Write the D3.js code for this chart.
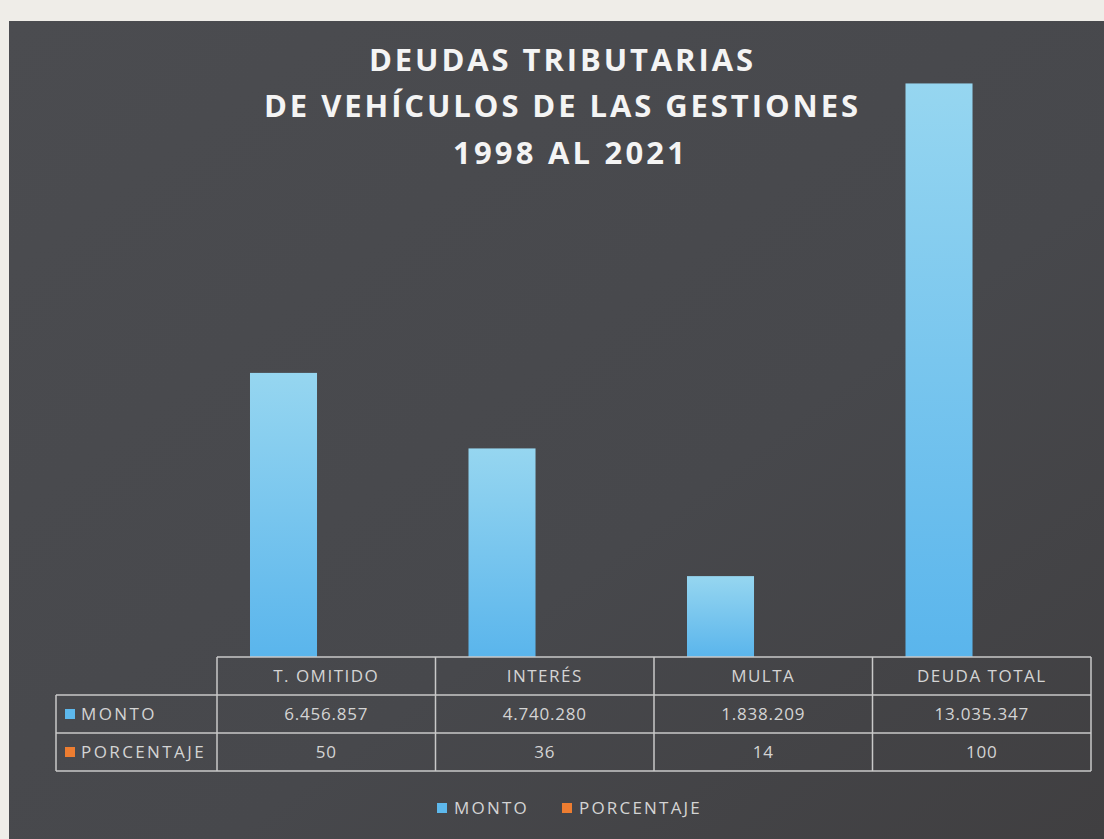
<!DOCTYPE html>
<html lang="es">
<head>
  <meta charset="utf-8">
  <title>Deudas tributarias</title>
  <script src="https://cdn.jsdelivr.net/npm/d3@7"></script>
  <style>
    body { margin: 0; background: #efede8; }
    svg { display: block; }
  </style>
</head>
<body>
  <script>
    // data
    const categories = ["T. OMITIDO", "INTERÉS", "MULTA", "DEUDA TOTAL"];
    const series = ["MONTO", "PORCENTAJE"];
    const monto = [6456857, 4740280, 1838209, 13035347];
    const porcentaje = [50, 36, 14, 100];
    const titleLines = ["DEUDAS TRIBUTARIAS", "DE VEHÍCULOS DE LAS GESTIONES", "1998 AL 2021"];
    const colors = { MONTO: "#5db8ec", PORCENTAJE: "#ed7d31" };

    const W = 1104, H = 839;
    const svg = d3.select("body").append("svg")
      .attr("width", W).attr("height", H);

    // background panel
    const defs = svg.append("defs");
    const bg = defs.append("linearGradient").attr("id", "bg")
      .attr("x1", 0).attr("y1", 0).attr("x2", 1).attr("y2", 1);
    bg.append("stop").attr("offset", "0%").attr("stop-color", "#4b4c50");
    bg.append("stop").attr("offset", "60%").attr("stop-color", "#47484c");
    bg.append("stop").attr("offset", "100%").attr("stop-color", "#403f41");
    const barGrad = defs.append("linearGradient").attr("id", "barGrad")
      .attr("x1", 0).attr("y1", 0).attr("x2", 0).attr("y2", 1);
    barGrad.append("stop").attr("offset", "0%").attr("stop-color", "#96d6f0");
    barGrad.append("stop").attr("offset", "100%").attr("stop-color", "#5ab5ec");

    svg.append("rect")
      .attr("x", 9).attr("y", 21)
      .attr("width", W - 9).attr("height", H - 21)
      .attr("fill", "url(#bg)");

    // title
    const title = svg.append("g").attr("font-family", "'Open Sans', 'Noto Sans', sans-serif")
      .attr("font-weight", "bold").attr("font-size", 31).attr("fill", "#f4f4f4")
      .attr("text-anchor", "middle");
    const titleY = [71, 117, 164];
    const titleW = [384, 594, 232];
    title.selectAll("text").data(titleLines).join("text")
      .attr("x", (d, i) => i === 2 ? 569 : 561)
      .attr("y", (d, i) => titleY[i])
      .attr("textLength", (d, i) => titleW[i])
      .attr("lengthAdjust", "spacing")
      .text(d => d);

    // scales
    const left = 217, right = 1091, baseline = 657;
    const x = d3.scaleBand().domain(categories).range([left, right]).padding(0);
    const xs = d3.scaleBand().domain(series).range([0, x.bandwidth()])
      .paddingInner(0.216).paddingOuter(0.386);
    const y = d3.scaleLinear().domain([0, 14000000]).range([baseline, 41]);

    const rows = categories.map((c, i) => ({ cat: c, MONTO: monto[i], PORCENTAJE: porcentaje[i] }));

    // bars
    const groups = svg.append("g").selectAll("g").data(rows).join("g")
      .attr("transform", d => `translate(${x(d.cat)},0)`);
    groups.selectAll("rect").data(d => series.map(s => ({ s, v: d[s] }))).join("rect")
      .attr("x", d => xs(d.s))
      .attr("y", d => y(d.v))
      .attr("width", xs.bandwidth())
      .attr("height", d => baseline - y(d.v))
      .attr("fill", d => d.s === "MONTO" ? "url(#barGrad)" : colors[d.s]);

    // data table
    const fmt = d3.formatLocale({ decimal: ",", thousands: ".", grouping: [3], currency: ["", ""] }).format(",d");
    const tableTop = baseline, rowH = 38;
    const labelLeft = 56;
    const lineColor = "#c9c9c9";
    const table = svg.append("g")
      .attr("font-family", "'Open Sans', 'Noto Sans', sans-serif")
      .attr("font-size", 17).attr("fill", "#d4d4d4");

    // horizontal lines
    table.append("line").attr("x1", left).attr("x2", right)
      .attr("y1", tableTop).attr("y2", tableTop);
    [1, 2, 3].forEach(r => {
      table.append("line").attr("x1", labelLeft).attr("x2", right)
        .attr("y1", tableTop + r * rowH).attr("y2", tableTop + r * rowH);
    });
    // vertical lines
    table.append("line").attr("x1", labelLeft).attr("x2", labelLeft)
      .attr("y1", tableTop + rowH).attr("y2", tableTop + 3 * rowH);
    categories.forEach(c => {
      table.append("line").attr("x1", x(c)).attr("x2", x(c))
        .attr("y1", tableTop).attr("y2", tableTop + 3 * rowH);
    });
    table.append("line").attr("x1", right).attr("x2", right)
      .attr("y1", tableTop).attr("y2", tableTop + 3 * rowH);
    table.selectAll("line").attr("stroke", lineColor).attr("stroke-width", 1.5);

    // header and values
    table.selectAll("text.head").data(categories).join("text").attr("class", "head")
      .attr("x", d => x(d) + x.bandwidth() / 2).attr("y", tableTop + rowH / 2 + 6)
      .attr("text-anchor", "middle").attr("letter-spacing", 1.5).text(d => d);
    table.selectAll("text.monto").data(monto).join("text").attr("class", "monto")
      .attr("x", (d, i) => x(categories[i]) + x.bandwidth() / 2).attr("y", tableTop + rowH * 1.5 + 6)
      .attr("text-anchor", "middle").attr("letter-spacing", 0.8).text(d => fmt(d));
    table.selectAll("text.pct").data(porcentaje).join("text").attr("class", "pct")
      .attr("x", (d, i) => x(categories[i]) + x.bandwidth() / 2).attr("y", tableTop + rowH * 2.5 + 6)
      .attr("text-anchor", "middle").attr("letter-spacing", 0.8).text(d => d);

    // row labels with keys
    series.forEach((s, i) => {
      const cy = tableTop + rowH * (1.5 + i);
      table.append("rect").attr("x", 65).attr("y", cy - 5)
        .attr("width", 10).attr("height", 10).attr("fill", colors[s]);
      table.append("text").attr("x", 81).attr("y", cy + 6)
        .attr("letter-spacing", 2.4).text(s);
    });

    // legend
    const legend = svg.append("g")
      .attr("font-family", "'Open Sans', 'Noto Sans', sans-serif")
      .attr("font-size", 17).attr("fill", "#d4d4d4");
    const legendX = [437, 562];
    series.forEach((s, i) => {
      legend.append("rect").attr("x", legendX[i]).attr("y", 803)
        .attr("width", 10).attr("height", 10).attr("fill", colors[s]);
      legend.append("text").attr("x", legendX[i] + 17).attr("y", 814)
        .attr("letter-spacing", 2.2).text(s);
    });
  </script>
</body>
</html>
